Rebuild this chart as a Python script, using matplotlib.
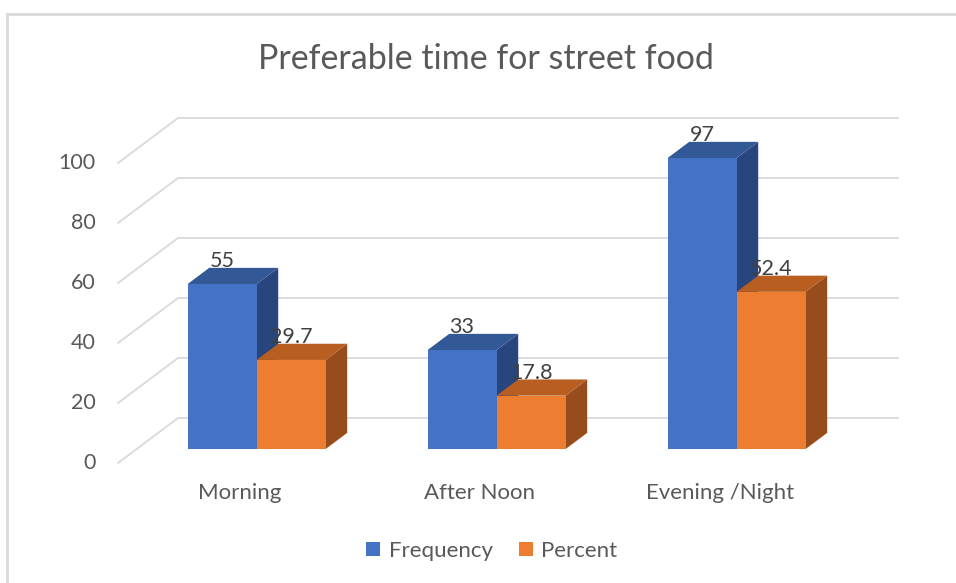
import matplotlib.pyplot as plt
from matplotlib.patches import Polygon
from matplotlib.lines import Line2D

# data
categories = ["Morning", "After Noon", "Evening /Night"]
frequency = [55, 33, 97]
percent = [29.7, 17.8, 52.4]
y_ticks = [0, 20, 40, 60, 80, 100]

blue = ("#4472C4", "#335896", "#28467D")     # front, top, side
orange = ("#ED7D31", "#B85E21", "#974C1C")
grid_col = "#D9D9D9"
text_col = "#595959"

# fake 3d: full depth moves a point by DX categories and DY value units
DX, DY = 0.25, 15.0
D0, D1 = 0.31, 0.67   # bar depth range
W = 0.2875            # bar width


def proj(x, v, d):
    return x + d * DX, v + d * DY


fig = plt.figure(figsize=(9.56, 5.83), dpi=100)
ax = fig.add_axes([0, 0, 1, 1])
ax.set_xlim(-238 / 240, (956 - 238) / 240)
ax.set_ylim((463 - 583) / 3, 463 / 3)
ax.axis("off")

plt.rcParams['font.family'] = ['Lato', 'DejaVu Sans']

# chart area border (left and top)
fig.add_artist(Line2D([6.5 / 956, 6.5 / 956], [0, 1 - 13.5 / 583], color=grid_col, lw=2))
fig.add_artist(Line2D([6.5 / 956, 1], [1 - 13.5 / 583] * 2, color=grid_col, lw=2))

# gridlines: diagonal on the side wall, then along the back wall
x_left, x_right = -0.5, len(categories) - 0.5
for t in y_ticks:
    p0 = proj(x_left, t, 0)
    p1 = proj(x_left, t, 1)
    p2 = proj(x_right, t, 1)
    ax.plot([p0[0], p1[0], p2[0]], [p0[1], p1[1], p2[1]], color=grid_col, lw=1.3, zorder=1)
    ax.text(-0.592, t, str(t), ha="right", va="center", fontsize=15.5, color=text_col)


def draw_bar(x0, val, cols, z):
    front, top, side = cols
    a = proj(x0, val, D0)
    b = proj(x0 + W, val, D0)
    c = proj(x0 + W, val, D1)
    d = proj(x0, val, D1)
    e = proj(x0 + W, 0, D0)
    f = proj(x0 + W, 0, D1)
    ax.add_patch(Polygon([e, b, c, f], closed=True, facecolor=side, edgecolor="none", zorder=z))
    ax.add_patch(Polygon([a, b, c, d], closed=True, facecolor=top, edgecolor="none", zorder=z))
    bars = ax.bar(x0 + D0 * DX, val, width=W, bottom=D0 * DY, align="edge",
                  color=front, linewidth=0, zorder=z + 0.1)
    ax.text(x0 + W / 2 + D0 * DX, val + D0 * DY + 5.7, f"{val:g}", ha="center",
            va="baseline", fontsize=15.5, color="#404040", zorder=20)
    return bars


for i, cat in enumerate(categories):
    hf = draw_bar(i - W, frequency[i], blue, 2 + i)
    hp = draw_bar(i, percent[i], orange, 2.5 + i)
    ax.text(i + 0.008, -10, cat, ha="center", va="center", fontsize=16, color=text_col)

fig.text(486 / 956, 1 - 59 / 583, "Preferable time for street food", ha="center",
         va="center", fontsize=24.5, color=text_col)

ax.legend([hf, hp], ["Frequency", "Percent"], loc="center", ncol=2,
          bbox_to_anchor=(492 / 956, 1 - 551 / 583), bbox_transform=fig.transFigure,
          frameon=False, fontsize=16, handlelength=0.6, handleheight=0.6,
          handletextpad=0.4, columnspacing=1.2, labelcolor=text_col)

fig.savefig("out.png", dpi=100)
